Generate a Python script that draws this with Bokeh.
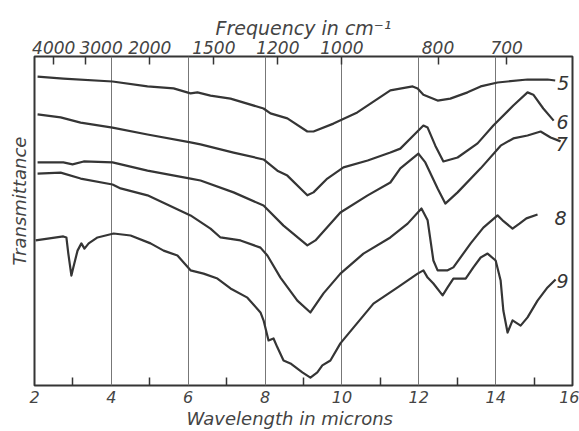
from bokeh.plotting import figure
from bokeh.models import (Range1d, LinearAxis, FixedTicker, CustomJSTickFormatter, Title, Grid)
from bokeh.embed import file_html
from bokeh.resources import INLINE
from bokeh.core.properties import value

# ---- data (wavelength in microns, transmittance in arbitrary units) ----
w5 = [2.08, 2.75, 4.03, 4.94, 5.62, 6.06, 6.24, 6.58, 7.10, 7.96, 8.14, 8.58, 9.10, 9.26,
      9.78, 10.40, 11.26, 11.84, 11.97, 12.12, 12.49, 12.82, 13.27, 13.61, 14.05, 14.83,
      15.35, 15.55]
t5 = [93.9, 93.3, 92.4, 90.9, 90.3, 88.8, 89.1, 88.1, 87.2, 84.2, 82.7, 81.2, 77.2, 77.2,
      79.6, 83.0, 89.7, 90.9, 90.3, 88.4, 86.6, 87.2, 89.1, 90.9, 92.1, 93.0,
      93.0, 92.7]

w6 = [2.08, 2.68, 3.20, 4.03, 4.94, 6.06, 6.32, 7.18, 7.96, 8.32, 8.58, 9.10, 9.26, 9.62,
      10.04, 10.67, 11.26, 11.52, 11.86, 12.12, 12.23, 12.43, 12.64, 13.01, 13.53, 13.94,
      14.46, 14.83, 14.98, 15.24, 15.51]
t6 = [82.4, 81.5, 79.9, 78.4, 76.3, 73.9, 73.3, 70.8, 68.7, 65.3, 63.8, 57.8, 58.7, 62.9,
      66.3, 68.4, 70.8, 72.0, 76.0, 79.0, 78.4, 72.9, 68.1, 69.3, 73.6, 79.0,
      85.1, 89.1, 88.4, 84.2, 80.5]

w7 = [2.08, 2.75, 2.99, 3.28, 4.03, 4.94, 6.06, 6.32, 7.18, 7.96, 8.48, 9.10, 9.31, 9.96,
      10.67, 11.26, 11.52, 11.99, 12.17, 12.49, 12.69, 13.01, 13.61, 14.13, 14.46, 14.83,
      15.17, 15.43, 15.69]
t7 = [67.8, 67.8, 67.2, 68.1, 67.8, 65.3, 62.9, 62.3, 58.7, 54.7, 48.6, 42.6, 44.1, 52.6,
      57.8, 61.7, 66.0, 70.5, 67.8, 59.9, 55.3, 58.7, 66.0, 72.9, 75.1, 76.0,
      77.2, 75.4, 74.2]

w8 = [2.08, 2.68, 3.20, 4.03, 4.24, 4.94, 6.06, 6.58, 6.84, 7.36, 7.88, 8.06, 8.40, 8.84,
      9.18, 9.52, 9.96, 10.56, 11.26, 11.71, 12.07, 12.23, 12.38, 12.49, 12.75, 12.90,
      13.35, 13.68, 14.05, 14.18, 14.44, 14.62, 14.80, 15.09]
t8 = [64.4, 64.7, 62.9, 61.1, 59.9, 57.8, 51.7, 47.7, 45.0, 44.1, 41.9, 39.5, 32.8, 25.8,
      22.2, 28.0, 34.0, 40.1, 45.0, 49.2, 53.8, 50.2, 38.0, 35.0, 35.0, 35.9,
      43.2, 48.0, 51.7, 50.2, 47.7, 49.2, 50.8, 52.0]

w9 = [2.03, 2.75, 2.83, 2.88, 2.96, 3.01, 3.12, 3.22, 3.30, 3.41, 3.64, 4.06, 4.50, 5.02,
      5.36, 5.72, 6.06, 6.40, 6.76, 7.10, 7.54, 7.88, 7.96, 8.09, 8.22, 8.32, 8.48, 8.66,
      8.97, 9.18, 9.36, 9.49, 9.70, 9.96, 10.30, 10.82, 11.45, 11.97, 12.12, 12.23, 12.38,
      12.62, 12.75, 12.90, 13.22, 13.42, 13.61, 13.79, 14.00, 14.13, 14.20, 14.31, 14.44,
      14.65, 14.83, 15.09, 15.35, 15.56]
t9 = [44.1, 45.3, 45.0, 40.1, 33.4, 35.9, 41.0, 43.2, 41.6, 43.2, 45.0, 46.2, 45.6, 43.2,
      41.0, 39.5, 35.0, 34.0, 32.5, 29.5, 26.7, 22.2, 19.8, 13.7, 14.3, 11.6, 7.6, 6.7,
      4.0, 2.4, 4.0, 6.1, 7.6, 12.8, 17.6, 24.9, 29.8, 34.0, 35.0, 32.8, 31.0,
      27.4, 29.8, 32.5, 32.5, 35.9, 38.9, 40.1, 38.0, 31.9, 22.8, 16.1, 19.8,
      18.2, 20.7, 25.8, 29.8, 32.2]

curve_names = ["5", "6", "7", "8", "9"]
label_w = [15.76, 15.74, 15.72, 15.69, 15.74]
label_t = [91.9, 80.2, 73.3, 50.9, 31.9]

wave_ticks = [2, 4, 6, 8, 10, 12, 14, 16]
wave_minor = [3, 5, 7, 9, 11, 13, 15]
freq_ticks = [4000, 3000, 2000, 1500, 1200, 1000, 800, 700]
freq_labels = [str(f) for f in freq_ticks]

INK = "#353535"
TXT = "#444444"
FONT = "DejaVu Sans"

# tick marks of the frequency scale sit at 10000/f microns; the crowded "3000"
# label is printed a little to the right of its tick, as in the original
freq_pos = [1e4 / f for f in freq_ticks]
label_nudge = [0.0, 0.40, 0.0, 0.0, 0.0, 0.0, 0.0, 0.0]
freq_label_pos = [a + b for a, b in zip(freq_pos, label_nudge)]

p = figure(width=579, height=431, output_backend="svg", toolbar_location=None,
           x_range=Range1d(2, 16), y_range=Range1d(0, 100),
           x_axis_location=None, y_axis_location=None,
           min_border_left=34, min_border_right=7, min_border_top=56, min_border_bottom=46)
p.background_fill_color = "white"
p.border_fill_color = "white"
p.outline_line_color = INK
p.outline_line_width = 2

# bottom axis (wavelength)
xb = LinearAxis(ticker=FixedTicker(ticks=wave_ticks, minor_ticks=wave_minor))
xb.axis_line_color = None
xb.major_tick_in = 0
xb.major_tick_out = 0
xb.minor_tick_in = 8
xb.minor_tick_out = 0
xb.minor_tick_line_color = INK
xb.minor_tick_line_width = 1.5
xb.major_label_standoff = 5
xb.major_label_text_font = FONT
xb.major_label_text_font_style = "italic"
xb.major_label_text_font_size = "16px"
xb.major_label_text_color = TXT
p.add_layout(xb, "below")

# top axis (frequency): labels on the major ticks, tick marks as minor ticks
xt = LinearAxis(ticker=FixedTicker(ticks=freq_label_pos, minor_ticks=freq_pos),
                formatter=CustomJSTickFormatter(args=dict(pos=freq_label_pos, lab=freq_labels),
                                                code="""
const i = pos.findIndex((v) => Math.abs(v - tick) < 1e-6);
return i >= 0 ? lab[i] : "";
"""))
xt.axis_line_color = None
xt.major_tick_in = 0
xt.major_tick_out = 0
xt.minor_tick_in = 8
xt.minor_tick_out = 0
xt.minor_tick_line_color = INK
xt.minor_tick_line_width = 1.5
xt.major_label_standoff = 3
xt.major_label_text_font = FONT
xt.major_label_text_font_style = "italic"
xt.major_label_text_font_size = "17px"
xt.major_label_text_color = TXT
p.add_layout(xt, "above")

# vertical grid lines
p.xgrid.visible = False
p.ygrid.visible = False
g = Grid(dimension=0, ticker=FixedTicker(ticks=wave_ticks[1:-1]))
g.grid_line_color = "#777"
g.grid_line_width = 1
p.add_layout(g)

for w, t in [(w5, t5), (w6, t6), (w7, t7), (w8, t8), (w9, t9)]:
    p.line(w, t, line_color=INK, line_width=2.2, line_join="round")

p.text(x=label_w, y=label_t, text=curve_names, text_font=value(FONT),
       text_font_style="italic", text_font_size="19px", text_color=INK,
       text_align="center", text_baseline="middle")

p.add_layout(Title(text="Wavelength in microns", align="left", offset=152, standoff=0,
                   text_font=FONT, text_font_style="italic", text_font_size="18px",
                   text_color=TXT), "below")
p.add_layout(Title(text="Frequency in cm\u207b\u00b9", align="center", standoff=-3,
                   text_font=FONT, text_font_style="italic", text_font_size="19px",
                   text_color=TXT), "above")
p.add_layout(Title(text="Transmittance", align="left", offset=120, standoff=10,
                   text_font=FONT, text_font_style="italic", text_font_size="18px",
                   text_color=TXT), "left")

open("out.html", "w").write(file_html(p, INLINE))
